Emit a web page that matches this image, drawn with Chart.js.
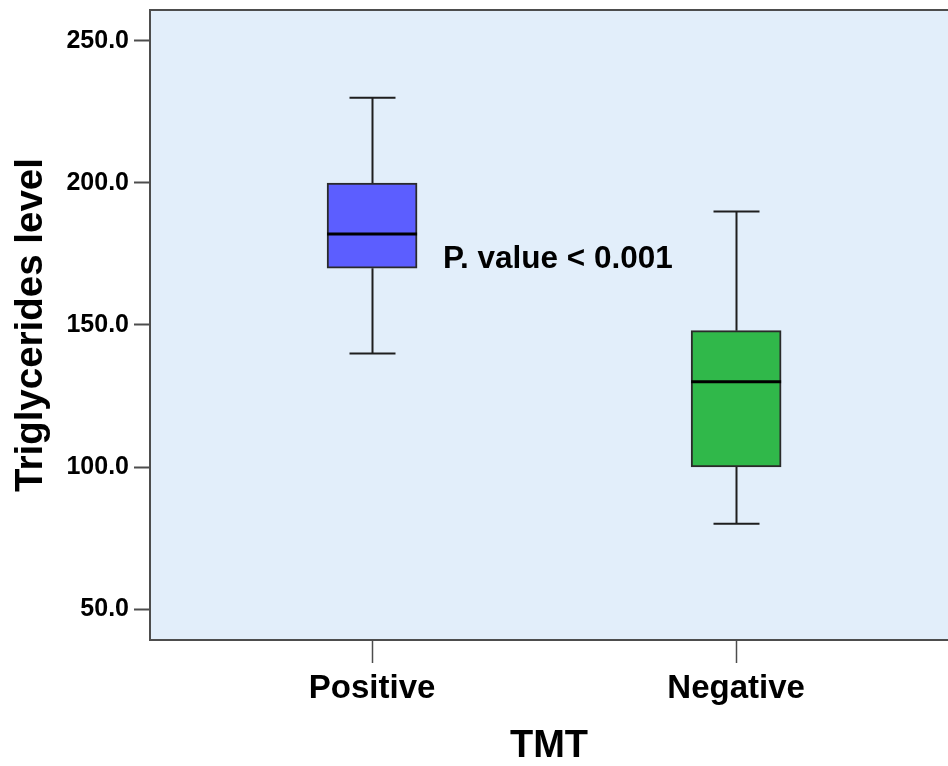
<!DOCTYPE html>
<html>
<head>
<meta charset="utf-8">
<title>Triglycerides level by TMT</title>
<script src="https://cdn.jsdelivr.net/npm/chart.js@4/dist/chart.umd.min.js"></script>
<style>
  html, body { margin: 0; padding: 0; background: #ffffff; }
  canvas { display: block; }
</style>
</head>
<body>
<canvas id="boxChart" width="948" height="766"></canvas>
<script>
// Chart values
const categories = ['Positive', 'Negative'];
const xPositions = [1, 2];
const whiskerMin = [140, 80];
const q1 = [170, 100];
const median = [182, 130];
const q3 = [200, 148];
const whiskerMax = [230, 190];
const yTicks = [50, 100, 150, 200, 250];
const boxColors = ['#5c5eff', '#30b84a'];

const pValueText = 'P. value < 0.001';
const pValueAt = { x: 1.195, y: 173 };

const FONT = '"Liberation Sans", Arial, sans-serif';
const INK = '#1e1e1e';

/**
 * Plot background, top frame line, whiskers, medians and the p-value label
 */
const boxPlotPlugin = {
  id: 'boxPlot',
  beforeDraw(chart) {
    const { ctx, chartArea } = chart;
    ctx.save();
    ctx.fillStyle = '#e2eefa';
    ctx.fillRect(chartArea.left, chartArea.top, chartArea.right - chartArea.left, chartArea.bottom - chartArea.top);
    ctx.restore();
  },
  beforeDatasetsDraw(chart) {
    const { ctx } = chart;
    const xs = chart.scales.x;
    const ys = chart.scales.y;
    ctx.save();
    ctx.strokeStyle = INK;
    ctx.lineWidth = 2;
    xPositions.forEach((xv, i) => {
      const cx = Math.round(xs.getPixelForValue(xv)) + 0.5;
      const capHalf = 23;
      const yMax = ys.getPixelForValue(whiskerMax[i]);
      const yQ3 = ys.getPixelForValue(q3[i]);
      const yQ1 = ys.getPixelForValue(q1[i]);
      const yMin = ys.getPixelForValue(whiskerMin[i]);
      ctx.beginPath();
      ctx.moveTo(cx, yMax); ctx.lineTo(cx, yQ3);
      ctx.moveTo(cx, yQ1); ctx.lineTo(cx, yMin);
      ctx.moveTo(cx - capHalf, yMax); ctx.lineTo(cx + capHalf, yMax);
      ctx.moveTo(cx - capHalf, yMin); ctx.lineTo(cx + capHalf, yMin);
      ctx.stroke();
    });
    ctx.restore();
  },
  afterDatasetsDraw(chart) {
    const { ctx, chartArea } = chart;
    const xs = chart.scales.x;
    const ys = chart.scales.y;
    const meta = chart.getDatasetMeta(0);
    ctx.save();
    // median lines
    ctx.strokeStyle = '#000000';
    ctx.lineWidth = 3;
    meta.data.forEach((bar, i) => {
      const half = bar.width / 2;
      const my = ys.getPixelForValue(median[i]);
      ctx.beginPath();
      ctx.moveTo(bar.x - half, my);
      ctx.lineTo(bar.x + half, my);
      ctx.stroke();
    });
    // top frame line
    ctx.strokeStyle = '#4d4d4d';
    ctx.lineWidth = 2;
    ctx.beginPath();
    ctx.moveTo(chartArea.left, chartArea.top);
    ctx.lineTo(chartArea.right, chartArea.top);
    ctx.stroke();
    // p-value annotation
    ctx.fillStyle = '#000000';
    ctx.font = 'bold 31.5px ' + FONT;
    ctx.textAlign = 'left';
    ctx.textBaseline = 'middle';
    ctx.fillText(pValueText, xs.getPixelForValue(pValueAt.x), ys.getPixelForValue(pValueAt.y));
    ctx.restore();
  }
};

function initChart() {
  const canvas = document.getElementById('boxChart');

  new Chart(canvas, {
    type: 'bar',
    data: {
      datasets: [{
        data: xPositions.map((xv, i) => ({ x: xv, y: [q1[i], q3[i]] })),
        backgroundColor: boxColors,
        borderColor: '#2a2a2a',
        borderWidth: 2,
        borderSkipped: false,
        barThickness: 90
      }]
    },
    options: {
      responsive: false,
      animation: false,
      devicePixelRatio: 1,
      layout: {
        padding: { top: 10, right: 0, left: 0, bottom: 0 }
      },
      plugins: {
        legend: { display: false },
        tooltip: { enabled: false }
      },
      scales: {
        x: {
          type: 'linear',
          min: 0.39,
          max: 2.582,
          offset: false,
          afterBuildTicks: scale => {
            scale.ticks = xPositions.map(v => ({ value: v }));
          },
          afterFit: scale => {
            scale.height = 126;
          },
          ticks: {
            color: '#000000',
            font: { family: FONT, size: 33, weight: 'bold' },
            padding: 6,
            maxRotation: 0,
            callback: value => categories[xPositions.indexOf(value)]
          },
          grid: {
            offset: false,
            drawOnChartArea: false,
            tickLength: 23,
            tickColor: '#4d4d4d',
            tickWidth: 1.5
          },
          border: { color: '#4d4d4d', width: 2 },
          title: {
            display: true,
            text: 'TMT',
            color: '#000000',
            font: { family: FONT, size: 38, weight: 'bold', lineHeight: 1 },
            padding: { top: 0, bottom: 0 }
          }
        },
        y: {
          min: 39.1,
          max: 260.9,
          afterBuildTicks: scale => {
            scale.ticks = yTicks.map(v => ({ value: v }));
          },
          afterFit: scale => {
            scale.width = 150;
          },
          ticks: {
            color: '#000000',
            font: { family: FONT, size: 25, weight: 'bold', lineHeight: 0.4 },
            padding: 5,
            callback: value => value.toFixed(1)
          },
          grid: {
            drawOnChartArea: false,
            tickLength: 16,
            tickColor: '#4d4d4d',
            tickWidth: 2
          },
          border: { color: '#4d4d4d', width: 2 },
          title: {
            display: true,
            text: 'Triglycerides level',
            color: '#000000',
            font: { family: FONT, size: 38.5, weight: 'bold', lineHeight: 1.2 },
            padding: { top: 8, bottom: 0 }
          }
        }
      }
    },
    plugins: [boxPlotPlugin]
  });
}

initChart();
</script>
</body>
</html>
